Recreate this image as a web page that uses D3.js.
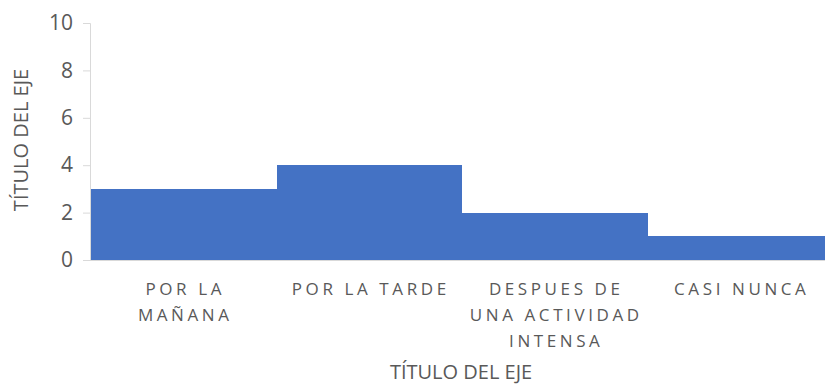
<!DOCTYPE html>
<html>
<head>
<meta charset="utf-8">
<script src="https://cdn.jsdelivr.net/npm/d3@7"></script>
<style>
  html, body { margin: 0; padding: 0; background: #fff; }
  svg { display: block; font-family: "Open Sans", sans-serif; }
</style>
</head>
<body>
<svg id="chart" width="825" height="385"></svg>
<script>
// Categories, each split into its wrapped label lines
const categories = ["POR LA MAÑANA", "POR LA TARDE", "DESPUES DE UNA ACTIVIDAD INTENSA", "CASI NUNCA"];
const categoryLines = [["POR LA", "MAÑANA"], ["POR LA TARDE"], ["DESPUES DE", "UNA ACTIVIDAD", "INTENSA"], ["CASI NUNCA"]];
const values = [3, 4, 2, 1];
const yTicks = [0, 2, 4, 6, 8, 10];
const xTitle = "TÍTULO DEL EJE";
const yTitle = "TÍTULO DEL EJE";

(function () {
  const svg = d3.select("#chart");
  const plotLeft = 91, plotRight = 833, plotTop = 23, plotBottom = 260;

  const x = d3.scaleBand().domain(categories).range([plotLeft, plotRight]).padding(0);
  const y = d3.scaleLinear().domain([0, 10]).range([plotBottom, plotTop]);

  const grey = "#595959";
  const axisGrey = "#d9d9d9";

  // Bars
  svg.append("g")
    .attr("shape-rendering", "crispEdges")
    .selectAll("rect")
    .data(values)
    .join("rect")
    .attr("x", (d, i) => Math.round(x(categories[i])))
    .attr("width", (d, i) => Math.round(x(categories[i]) + x.bandwidth()) - Math.round(x(categories[i])))
    .attr("y", d => Math.round(y(d)))
    .attr("height", d => Math.round(y(0)) - Math.round(y(d)))
    .attr("fill", "#4472C4");

  // Y axis
  const yAxis = svg.append("g")
    .attr("transform", `translate(${plotLeft - 1},0)`)
    .call(d3.axisLeft(y).tickValues(yTicks).tickSize(7).tickPadding(10));
  yAxis.select(".domain").attr("stroke", axisGrey);
  yAxis.selectAll(".tick line").attr("stroke", axisGrey);
  yAxis.selectAll(".tick text")
    .attr("fill", grey)
    .style("font-size", "21px")
    .style("font-family", "'Open Sans', sans-serif");

  // X baseline
  svg.append("line")
    .attr("x1", plotLeft - 8).attr("x2", 825)
    .attr("y1", y(0) + 0.5).attr("y2", y(0) + 0.5)
    .attr("stroke", axisGrey);

  // Category labels
  const lab = svg.append("g");
  categories.forEach((c, i) => {
    const cx = x(c) + x.bandwidth() / 2;
    categoryLines[i].forEach((line, j) => {
      lab.append("text")
        .attr("x", cx + 1.5)
        .attr("y", 295 + j * 26)
        .attr("text-anchor", "middle")
        .attr("fill", grey)
        .style("font-size", "17px")
        .style("letter-spacing", "3.6px")
        .text(line);
    });
  });

  // Axis titles
  svg.append("text")
    .attr("x", 461).attr("y", 379)
    .attr("text-anchor", "middle")
    .attr("fill", grey)
    .style("font-size", "20px")
    .text(xTitle);

  svg.append("text")
    .attr("transform", `translate(28,140) rotate(-90)`)
    .attr("text-anchor", "middle")
    .attr("fill", grey)
    .style("font-size", "20px")
    .text(yTitle);
})();
</script>
</body>
</html>
